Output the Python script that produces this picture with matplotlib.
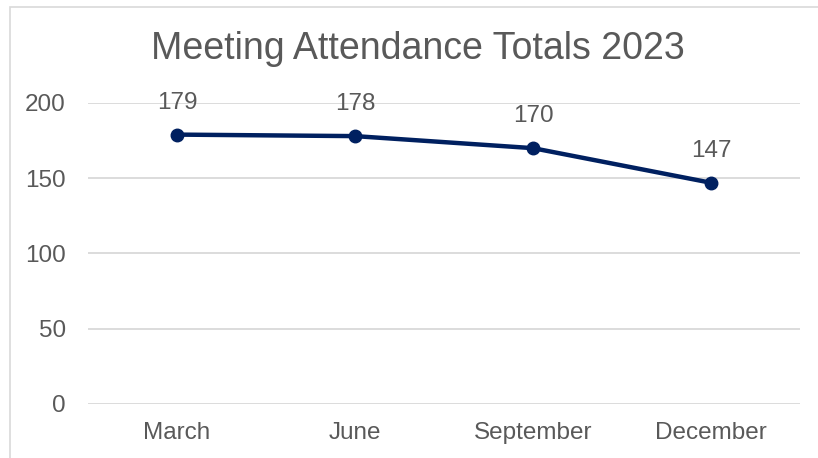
import matplotlib.pyplot as plt
from matplotlib.patches import Rectangle

plt.rcParams['font.family'] = ['Liberation Sans', 'DejaVu Sans']

meses = ['March', 'June', 'September', 'December']
asistencia = [179, 178, 170, 147]
marcas_y = [0, 50, 100, 150, 200]

gris_texto = '#595959'
gris_linea = '#d9d9d9'
azul = '#002060'

W, H = 818, 458
fig = plt.figure(figsize=(W / 100, H / 100), dpi=100)

# marco del gráfico (recortado a la derecha y abajo)
fig.patches.append(Rectangle((10 / W, -0.1), 1.2, (H - 7) / H + 0.1, transform=fig.transFigure,
                             fill=False, edgecolor=gris_linea, linewidth=1.2))

ax = fig.add_axes([88 / W, (H - 404) / H, (800 - 88) / W, (404 - 103) / H])
x = list(range(len(meses)))
ax.plot(x, asistencia, color=azul, linewidth=3.2, marker='o', markersize=9, zorder=3)

for xi, v in zip(x, asistencia):
    ax.annotate(str(v), (xi, v), xytext=(0, 15), textcoords='offset points',
                ha='center', va='bottom', fontsize=17.5, color=gris_texto)

ax.set_xlim(-0.5, len(meses) - 0.5)
ax.set_ylim(0, 200)
ax.set_yticks(marcas_y)
ax.set_xticks(x)
ax.set_xticklabels(meses)
ax.grid(axis='y', color=gris_linea, linewidth=1.3)
ax.set_axisbelow(True)
for s in ax.spines.values():
    s.set_visible(False)
ax.tick_params(axis='both', length=0, labelsize=17.5, labelcolor=gris_texto)
ax.tick_params(axis='y', pad=16)
ax.tick_params(axis='x', pad=13)

fig.text(418 / W, 1 - 49 / H, 'Meeting Attendance Totals 2023', ha='center', va='center',
         fontsize=27, color=gris_texto)

fig.savefig('out.png', dpi=100)
